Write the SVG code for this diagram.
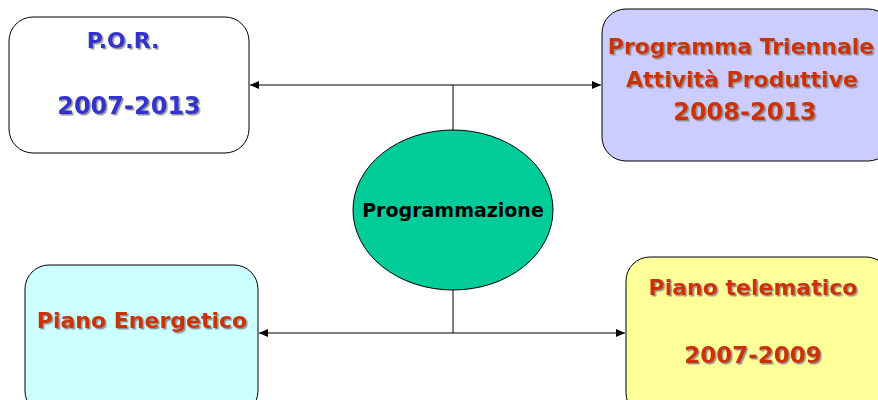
<svg xmlns="http://www.w3.org/2000/svg" width="878" height="400" viewBox="0 0 878 400">
<style>
.box{stroke:#000;stroke-width:1}
.t{font-family:"DejaVu Sans","Liberation Sans",sans-serif;font-weight:bold;text-anchor:middle}
.red{fill:#cc3300;filter:url(#sh)}
.blue{fill:#3333cc;filter:url(#sh)}
.conn{stroke:#000;stroke-width:1;fill:none}
</style>
<defs>
<filter id="sh" x="-10%" y="-30%" width="120%" height="160%">
<feDropShadow dx="1.5" dy="1.5" stdDeviation="0.3" flood-color="#888" flood-opacity="0.9"/>
</filter>
<marker id="ar" markerWidth="10" markerHeight="8" refX="9" refY="4" orient="auto-start-reverse" markerUnits="userSpaceOnUse">
<path d="M0,0 L9,4 L0,8 Z" fill="#000"/>
</marker>
</defs>
<rect width="878" height="400" fill="#fff"/>
<g id="connectors">
<line class="conn" x1="250" y1="85" x2="601" y2="85" marker-start="url(#ar)" marker-end="url(#ar)"/>
<line class="conn" x1="453" y1="85" x2="453" y2="130"/>
<line class="conn" x1="259" y1="333" x2="625" y2="333" marker-start="url(#ar)" marker-end="url(#ar)"/>
<line class="conn" x1="453" y1="290" x2="453" y2="333"/>
</g>
<g id="por">
<rect class="box" x="9" y="17" width="240" height="136" rx="24" fill="#fff"/>
<text class="t blue" x="123" y="48" font-size="22">P.O.R.</text>
<text class="t blue" x="129" y="114" font-size="24">2007-2013</text>
</g>
<g id="programma">
<rect class="box" x="602" y="9" width="290" height="152" rx="24" fill="#ccccff"/>
<text class="t red" x="741" y="54" font-size="22">Programma Triennale</text>
<text class="t red" x="742" y="87" font-size="22">Attività Produttive</text>
<text class="t red" x="745" y="120" font-size="24">2008-2013</text>
</g>
<g id="programmazione">
<ellipse class="box" cx="453" cy="210" rx="100" ry="80" fill="#00cc99"/>
<text class="t" x="453" y="217" font-size="19" fill="#000">Programmazione</text>
</g>
<g id="energetico">
<rect class="box" x="25" y="265" width="233" height="150" rx="24" fill="#ccffff"/>
<text class="t red" x="142" y="328" font-size="22">Piano Energetico</text>
</g>
<g id="telematico">
<rect class="box" x="626" y="257" width="264" height="160" rx="24" fill="#ffff99"/>
<text class="t red" x="753" y="295" font-size="22">Piano telematico</text>
<text class="t red" x="753" y="363" font-size="23">2007-2009</text>
</g>
</svg>
